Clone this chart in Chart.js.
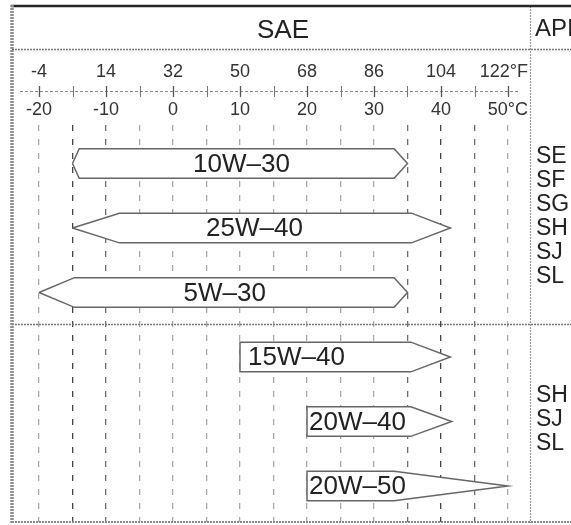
<!DOCTYPE html>
<html><head><meta charset="utf-8">
<script src="https://cdn.jsdelivr.net/npm/chart.js@4.4.1/dist/chart.umd.min.js"></script>
<style>html,body{margin:0;padding:0;background:#fff;}#wrap{width:571px;height:525px;position:relative;}</style>
</head><body><div id="wrap"><canvas id="c" width="571" height="525"></canvas></div>
<script>
// ---- data ----
const grades   = ['10W–30', '25W–40', '5W–30', '15W–40', '20W–40', '20W–50'];
const minTemp  = [-15, -15, -20, 10, 20, 20];      // °C, left tip
const minFlat  = [-14, -8, -14.7, 10, 20, 20];     // °C, where the full-width band begins
const maxFlat  = [33, 35.6, 33, 35.5, 35.5, 33];   // °C, where the right taper begins
const maxTemp  = [35, 41.4, 35, 41.4, 41.6, 50];   // °C, right tip
const gridTemps  = [-20, -15, -10, -5, 0, 5, 10, 15, 20, 25, 30, 35, 40, 45, 50];
const labelTemps = [-20, -10, 0, 10, 20, 30, 40, 50];
const fLabels  = ['-4', '14', '32', '50', '68', '86', '104', '122°F'];
const cLabels  = ['-20', '-10', '0', '10', '20', '30', '40', '50°C'];
const apiUpper = ['SE', 'SF', 'SG', 'SH', 'SJ', 'SL'];
const apiLower = ['SH', 'SJ', 'SL'];
const headerSAE = 'SAE';
const headerAPI = 'API';

// ---- styles / layout ----
const FONT = '"Liberation Sans", Arial, Helvetica, sans-serif';
const halfH = 0.23;
const labelStyle = [
  {align: 'center', dx: 1.5}, {align: 'center', dx: -7}, {align: 'center', dx: 1.5},
  {align: 'left', dx: 8}, {align: 'left', dx: 2}, {align: 'left', dx: 2}
];
const gridColor = v => (v === -15 || v === 40) ? '#444' : (v === -10 || v === 35 || v === 45) ? '#6e6e6e' : '#a8a8a8';

const datasets = grades.map((g, i) => ({
  label: g,
  data: [
    {x: minTemp[i], y: i},
    {x: minFlat[i], y: i - halfH},
    {x: maxFlat[i], y: i - halfH},
    {x: maxTemp[i], y: i},
    {x: maxFlat[i], y: i + halfH},
    {x: minFlat[i], y: i + halfH},
    {x: minTemp[i], y: i}
  ],
  borderColor: '#666',
  borderWidth: 1.5,
  pointRadius: 0,
  fill: false,
  tension: 0,
  borderJoinStyle: 'miter'
}));

const shapeFill = {
  id: 'shapeFill',
  beforeDatasetDraw(chart, args) {
    const pts = args.meta.data;
    const ctx = chart.ctx;
    ctx.save();
    ctx.beginPath();
    pts.forEach((p, k) => k ? ctx.lineTo(p.x, p.y) : ctx.moveTo(p.x, p.y));
    ctx.closePath();
    ctx.fillStyle = '#fff';
    ctx.fill();
    ctx.restore();
  }
};

const gradeLabels = {
  id: 'gradeLabels',
  afterDatasetsDraw(chart) {
    const ctx = chart.ctx, xs = chart.scales.x, ys = chart.scales.y;
    ctx.save();
    ctx.font = '26px ' + FONT;
    ctx.fillStyle = '#222';
    ctx.textBaseline = 'middle';
    grades.forEach((g, i) => {
      const st = labelStyle[i];
      let px;
      if (st.align === 'center') px = (xs.getPixelForValue(minTemp[i]) + xs.getPixelForValue(maxTemp[i])) / 2;
      else px = xs.getPixelForValue(minFlat[i]);
      ctx.textAlign = st.align;
      ctx.fillText(g, px + st.dx, ys.getPixelForValue(i) + 1);
    });
    ctx.restore();
  }
};

const frame = {
  id: 'frame',
  beforeDraw(chart) {
    const c = chart.ctx; c.save(); c.fillStyle = '#fff'; c.fillRect(0, 0, chart.width, chart.height); c.restore();
  },
  afterDraw(chart) {
    const ctx = chart.ctx, xs = chart.scales.x, ys = chart.scales.y;
    const W = chart.width;
    const divX = 530;
    ctx.save();
    const line = (x1, y1, x2, y2, color, w, dash) => {
      ctx.beginPath(); ctx.strokeStyle = color; ctx.lineWidth = w; ctx.setLineDash(dash || []);
      ctx.moveTo(x1, y1); ctx.lineTo(x2, y2); ctx.stroke();
    };
    // header separator, section divider, bottom border
    line(12, 49.5, W, 49.5, '#777', 1.5, [2, 1]);
    line(12, 324.5, W, 324.5, '#777', 1.5, [2, 1]);
    line(12, 522, W, 522, '#888', 2, [2, 1]);
    // vertical divider SAE / API
    line(divX + 0.5, 6, divX + 0.5, 523, '#999', 1.2, [2, 1]);
    // top and left borders
    line(11, 6, W, 6, '#262626', 2.5);
    line(12, 5, 12, 523, '#8c8c8c', 3.5, [2, 1]);
    // header text
    ctx.setLineDash([]);
    ctx.fillStyle = '#222';
    ctx.font = '26px ' + FONT;
    ctx.textBaseline = 'middle';
    ctx.textAlign = 'center';
    ctx.fillText(headerSAE, 283, 31);
    ctx.font = '24px ' + FONT;
    ctx.textAlign = 'left';
    ctx.fillText(headerAPI, 535, 29);
    // temperature axis line
    line(20, 91.5, 520, 91.5, '#888', 1, [3, 2]);
    gridTemps.forEach(t => {
      const px = Math.round(xs.getPixelForValue(t)) + 0.5;
      const major = labelTemps.includes(t);
      line(px, 86, px, 97, major ? '#555' : '#777', major ? 1.3 : 1);
    });
    ctx.setLineDash([]);
    ctx.font = '18px ' + FONT;
    ctx.fillStyle = '#333';
    ctx.textBaseline = 'middle';
    labelTemps.forEach((t, k) => {
      const px = xs.getPixelForValue(t);
      const last = k === labelTemps.length - 1;
      ctx.textAlign = last ? 'right' : 'center';
      const ax = last ? divX - 2 : px;
      ctx.fillText(fLabels[k], ax, 72);
      ctx.fillText(cLabels[k], ax, 110);
    });
    // API classes
    ctx.font = '23px ' + FONT;
    ctx.fillStyle = '#222';
    ctx.textAlign = 'left';
    const step = 24;
    const upMid = ys.getPixelForValue(1) - 11;
    apiUpper.forEach((s, k) => ctx.fillText(s, 536, upMid + (k - (apiUpper.length - 1) / 2) * step));
    const loMid = ys.getPixelForValue(4) - 2;
    apiLower.forEach((s, k) => ctx.fillText(s, 536, loMid + (k - (apiLower.length - 1) / 2) * step));
    ctx.restore();
  }
};

new Chart(document.getElementById('c'), {
  type: 'line',
  data: {datasets},
  plugins: [frame, shapeFill, gradeLabels],
  options: {
    responsive: false,
    devicePixelRatio: 1,
    animation: false,
    events: [],
    layout: {padding: {top: 125, bottom: 3, left: 0, right: 0}},
    plugins: {legend: {display: false}, tooltip: {enabled: false}},
    scales: {
      x: {
        type: 'linear',
        min: -20 - 39 / 6.7,
        max: -20 + (571 - 39) / 6.7,
        afterBuildTicks: s => { s.ticks = gridTemps.map(v => ({value: v})); },
        ticks: {display: false},
        grid: {
          drawTicks: false,
          color: c => gridColor(c.tick ? c.tick.value : 0),
          lineWidth: 1.3
        },
        border: {display: false, dash: [6, 8]}
      },
      y: {
        type: 'linear',
        reverse: true,
        min: -0.597,
        max: -0.597 + 397 / 64.5,
        display: false
      }
    }
  }
});
</script>
</body></html>
